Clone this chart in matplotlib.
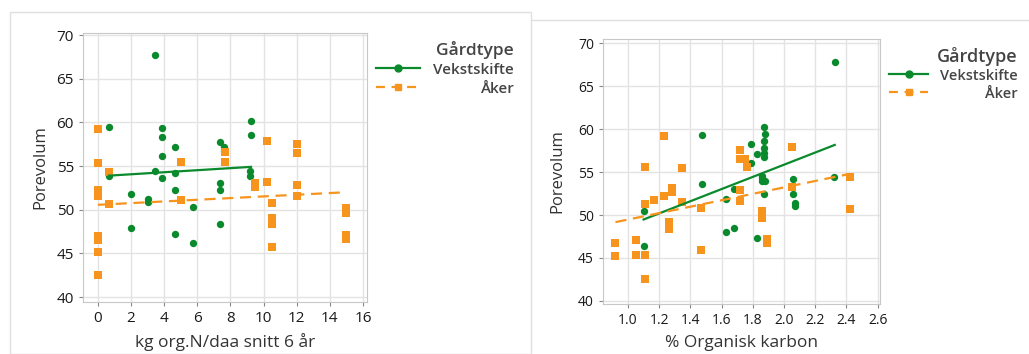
import numpy as np
import matplotlib
matplotlib.use("Agg")
import matplotlib.pyplot as plt
from matplotlib.lines import Line2D
from matplotlib.patches import Rectangle

plt.rcParams['font.family'] = ['Open Sans', 'DejaVu Sans']

# ---- Data: left panel (kg org.N/daa snitt 6 år vs Porevolum)
vs_n_x = [3.46, 0.66, 0.66, 2.0, 2.0, 3.0, 3.0, 3.46, 3.86, 3.86, 3.86, 3.86,
          4.67, 4.67, 4.67, 4.67, 5.71, 5.71, 7.34, 7.6, 7.6, 7.34, 7.34, 7.34,
          9.24, 9.24, 9.17, 9.17]
vs_n_y = [67.75, 59.5, 53.8, 51.85, 47.9, 51.25, 50.9, 54.4, 59.3, 58.3, 56.1, 53.6,
          57.15, 54.25, 52.3, 47.2, 50.3, 46.2, 57.7, 57.2, 56.7, 53.0, 52.3, 48.4,
          60.1, 58.5, 54.4, 53.8]
ak_n_x = [0, 0, 0, 0, 0, 0, 0, 0, 0.66, 0.66, 5.03, 5.03, 7.7, 7.7, 9.48, 9.48,
          10.2, 10.2, 10.5, 10.5, 10.5, 10.5, 12, 12, 12, 12, 15, 15, 15, 15]
ak_n_y = [59.2, 55.4, 52.2, 51.6, 47.0, 46.5, 45.2, 42.5, 54.3, 50.6, 55.5, 51.1,
          56.6, 55.5, 53.0, 52.6, 57.85, 53.2, 50.8, 49.0, 48.4, 45.7, 57.5, 56.5,
          52.85, 51.6, 50.2, 49.6, 47.1, 46.7]
# fitted lines (intercept, slope)
fit_vs_n = (53.82, 0.117)
fit_ak_n = (50.56, 0.096)

# ---- Data: right panel (% Organisk karbon vs Porevolum)
vs_c_x = [2.325, 2.32, 1.10, 1.10, 1.475, 1.475, 1.63, 1.63, 1.68, 1.68, 1.79, 1.79,
          1.83, 1.83, 1.87, 1.88, 1.87, 1.87, 1.87, 1.87, 1.86, 1.86, 1.86, 1.88, 1.87,
          2.06, 2.06, 2.07, 2.07]
vs_c_y = [67.8, 54.45, 50.5, 46.4, 59.3, 53.6, 51.85, 48.0, 53.0, 48.5, 58.3, 56.1,
          57.1, 47.3, 60.2, 59.4, 58.6, 57.75, 57.2, 56.7, 54.5, 54.3, 53.9, 53.9, 52.4,
          54.2, 52.4, 51.35, 51.1]
ak_c_x = [0.92, 0.92, 1.05, 1.05, 1.11, 1.11, 1.11, 1.11, 1.165, 1.23, 1.23, 1.26, 1.26,
          1.28, 1.28, 1.345, 1.345, 1.47, 1.47, 1.72, 1.72, 1.75, 1.76, 1.715, 1.715,
          1.86, 1.86, 1.89, 1.89, 2.05, 2.05, 2.42, 2.42]
ak_c_y = [46.7, 45.25, 47.15, 45.35, 55.6, 51.3, 45.35, 42.55, 51.8, 59.2, 52.2, 49.2, 48.35,
          53.1, 52.7, 55.5, 51.5, 50.85, 45.9, 57.55, 56.55, 56.55, 55.6, 52.9, 51.65,
          50.5, 49.7, 47.25, 46.8, 57.9, 53.3, 54.45, 50.7]
fit_vs_c = (41.69, 7.08)
fit_ak_c = (45.73, 3.74)

legend_title = "Gårdtype"
group_names = ["Vekstskifte", "Åker"]
ylabel = "Porevolum"
xlabel_left = "kg org.N/daa snitt 6 år"
xlabel_right = "% Organisk karbon"
yticks = [40, 45, 50, 55, 60, 65, 70]
xticks_left = [0, 2, 4, 6, 8, 10, 12, 14, 16]
xticks_right = [1.0, 1.2, 1.4, 1.6, 1.8, 2.0, 2.2, 2.4, 2.6]

GREEN = '#0a8a2c'
ORANGE = '#f7941d'
GRID = '#e3e3e3'
SPINE = '#c8c8c8'
TXT = '#1a1a1a'

W, H = 1029, 354
fig = plt.figure(figsize=(W / 100, H / 100), dpi=100)
fig.patch.set_facecolor('white')


def px_axes(l, t, r, b):
    return fig.add_axes([l / W, 1 - b / H, (r - l) / W, (b - t) / H])


def fx(x):
    return x / W


def fy(y):
    return 1 - y / H


# panel frames
fig.add_artist(Rectangle((fx(10), fy(354)), fx(521), fy(12) - fy(354),
                         transform=fig.transFigure, fill=False, ec='#e0e0e0', lw=1))
fig.add_artist(Line2D([fx(531), fx(1029)], [fy(20), fy(20)], transform=fig.transFigure,
                      color='#e0e0e0', lw=1))


def style(ax, xt, xlim, ylim, fs, fmt=None):
    ax.set_xlim(*xlim)
    ax.set_ylim(*ylim)
    ax.set_yticks(yticks)
    ax.set_xticks(xt)
    if fmt:
        ax.set_xticklabels([fmt.format(v) for v in xt])
    ax.grid(True, color=GRID, lw=1)
    ax.set_axisbelow(True)
    for s in ax.spines.values():
        s.set_color(SPINE)
    ax.tick_params(colors='#888888', labelcolor=TXT, labelsize=fs, length=3, width=0.8)


def draw(ax, vx, vy, axx, axy, fv, fa):
    ax.scatter(vx, vy, marker='o', s=28, color=GREEN, zorder=3, lw=0)
    ax.scatter(axx, axy, marker='s', s=36, color=ORANGE, zorder=3, lw=0)
    for xs, (b0, b1), c, ls in [(vx, fv, GREEN, '-'), (axx, fa, ORANGE, (0, (5, 3)))]:
        xs = np.asarray(xs)
        xr = np.array([xs.min(), xs.max()])
        ax.plot(xr, b0 + b1 * xr, color=c, lw=1.6, ls=ls, zorder=4)


# left panel
axL = px_axes(83, 33, 367, 302)
draw(axL, vs_n_x, vs_n_y, ak_n_x, ak_n_y, fit_vs_n, fit_ak_n)
style(axL, xticks_left, (-0.9, 16.24), (39.43, 70.23), 11)
axL.set_ylabel(ylabel, fontsize=12, color='#333333', labelpad=6)
axL.set_xlabel(xlabel_left, fontsize=12.5, color='#333333', labelpad=5)

# right panel
axR = px_axes(603, 39, 880, 304)
draw(axR, vs_c_x, vs_c_y, ak_c_x, ak_c_y, fit_vs_c, fit_ak_c)
style(axR, xticks_right, (0.84, 2.615), (39.65, 70.47), 10, fmt='{:.1f}')
axR.set_ylabel(ylabel, fontsize=12, color='#333333', labelpad=9)
axR.set_xlabel(xlabel_right, fontsize=12.5, color='#333333', labelpad=5)


def legend(x0, x1, xr, yt, y1, y2, fs_t, fs_l):
    fig.text(fx(xr), fy(yt), legend_title, ha='right', va='center', fontsize=fs_t,
             color='#444444', fontweight='semibold')
    for (y, c, ls, mk, lab) in [(y1, GREEN, '-', 'o', group_names[0]),
                                 (y2, ORANGE, (0, (4, 3)), 's', group_names[1])]:
        fig.add_artist(Line2D([fx(x0), fx(x1)], [fy(y), fy(y)], transform=fig.transFigure,
                              color=c, lw=1.6, ls=ls))
        fig.add_artist(Line2D([fx((x0 + x1) / 2)], [fy(y)], transform=fig.transFigure,
                              color=c, marker=mk, ms=5, lw=0))
        fig.text(fx(xr), fy(y + 2), lab, ha='right', va='center', fontsize=fs_l,
                 color='#444444', fontweight='semibold')


legend(376, 420, 514, 50, 68, 87, 12.5, 11)
legend(889, 928, 1018, 57, 74, 92, 13, 10.5)

fig.savefig('out.png', dpi=100)
